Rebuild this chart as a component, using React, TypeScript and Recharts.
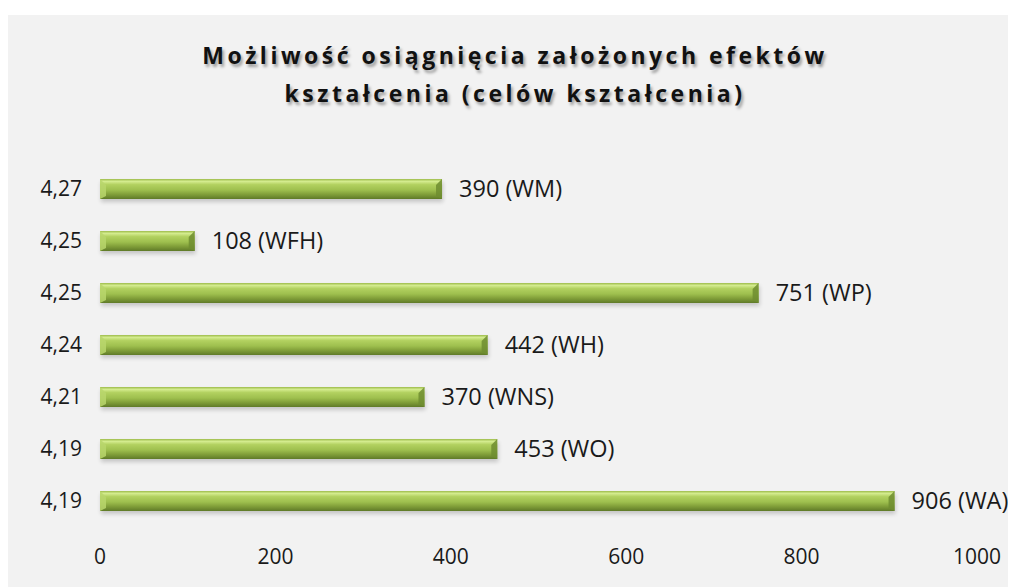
import React from "react";
import { BarChart, Bar, XAxis, YAxis, LabelList } from "recharts";

const ratings = ["4,27", "4,25", "4,25", "4,24", "4,21", "4,19", "4,19"];
const counts = [390, 108, 751, 442, 370, 453, 906];
const faculties = ["WM", "WFH", "WP", "WH", "WNS", "WO", "WA"];
const xTicks = [0, 200, 400, 600, 800, 1000];

const data = ratings.map((r, i) => ({
  key: "c" + i,
  rating: r,
  count: counts[i],
  label: counts[i] + " (" + faculties[i] + ")",
}));

const FONT = "'Open Sans', sans-serif";

const BevelBar = (props: any) => {
  const { x, y, width, height } = props;
  if (!width || width <= 0) return null;
  const b = 6;
  return (
    <g>
      <rect x={x + 1} y={y + 3} width={width} height={height} fill="#000" opacity={0.18} filter="url(#barShadow)" />
      <rect x={x} y={y} width={width} height={height} fill="url(#barBody)" />
      <polygon points={`${x},${y} ${x + b},${y + b} ${x + b},${y + height - 3} ${x},${y + height}`} fill="#b8d66c" opacity={0.85} />
      <polygon points={`${x + width},${y} ${x + width},${y + height} ${x + width - b},${y + height - 3} ${x + width - b},${y + b}`} fill="#6f8d30" opacity={0.85} />
    </g>
  );
};

const renderLabel = (props: any) => {
  const { x, y, width, height, value } = props;
  return (
    <text x={x + width + 17} y={y + height / 2} dy={8} fill="#1a1a1a" fontSize={23.5} fontFamily={FONT}>
      {value}
    </text>
  );
};

export default function App() {
  return (
    <div style={{ position: "absolute", top: 15, left: 8, width: 1000, height: 572, background: "#f2f2f2", overflow: "hidden" }}>
      <div
        style={{
          position: "absolute",
          top: 21,
          left: 0,
          width: 1014,
          textAlign: "center",
          fontFamily: FONT,
          fontWeight: 700,
          fontSize: 23,
          letterSpacing: 3.5,
          lineHeight: "38px",
          color: "#111",
          textShadow: "2px 3px 3px rgba(0,0,0,0.35)",
        }}
      >
        Możliwość osiągnięcia założonych efektów
        <br />
        kształcenia (celów kształcenia)
      </div>
      <BarChart
        width={1000}
        height={572}
        data={data}
        layout="vertical"
        barSize={20}
        margin={{ top: 148, right: 31, bottom: 20, left: 0 }}
        style={{ position: "absolute", top: 0, left: 0 }}
      >
        <defs>
          <linearGradient id="barBody" x1="0" y1="0" x2="0" y2="1">
            <stop offset="0%" stopColor="#9cbb4a" />
            <stop offset="12%" stopColor="#d4ec8f" />
            <stop offset="28%" stopColor="#b2d160" />
            <stop offset="55%" stopColor="#9ebf4e" />
            <stop offset="78%" stopColor="#7f9d38" />
            <stop offset="100%" stopColor="#5f7a28" />
          </linearGradient>
          <filter id="barShadow" x="-5%" y="-50%" width="110%" height="200%">
            <feGaussianBlur stdDeviation="2" />
          </filter>
        </defs>
        <XAxis
          type="number"
          domain={[0, 1000]}
          ticks={xTicks}
          axisLine={false}
          tickLine={false}
          height={40}
          tick={{ fill: "#1a1a1a", fontSize: 21, fontFamily: FONT, dy: 14 }}
        />
        <YAxis
          type="category"
          dataKey="key"
          width={92}
          axisLine={false}
          tickLine={false}
          tickFormatter={(k: string) => data.find((d) => d.key === k)?.rating ?? ""}
          tick={{ fill: "#1a1a1a", fontSize: 21, fontFamily: FONT, dx: -10 }}
        />
        <Bar dataKey="count" shape={<BevelBar />} isAnimationActive={false}>
          <LabelList dataKey="label" content={renderLabel} />
        </Bar>
      </BarChart>
    </div>
  );
}
